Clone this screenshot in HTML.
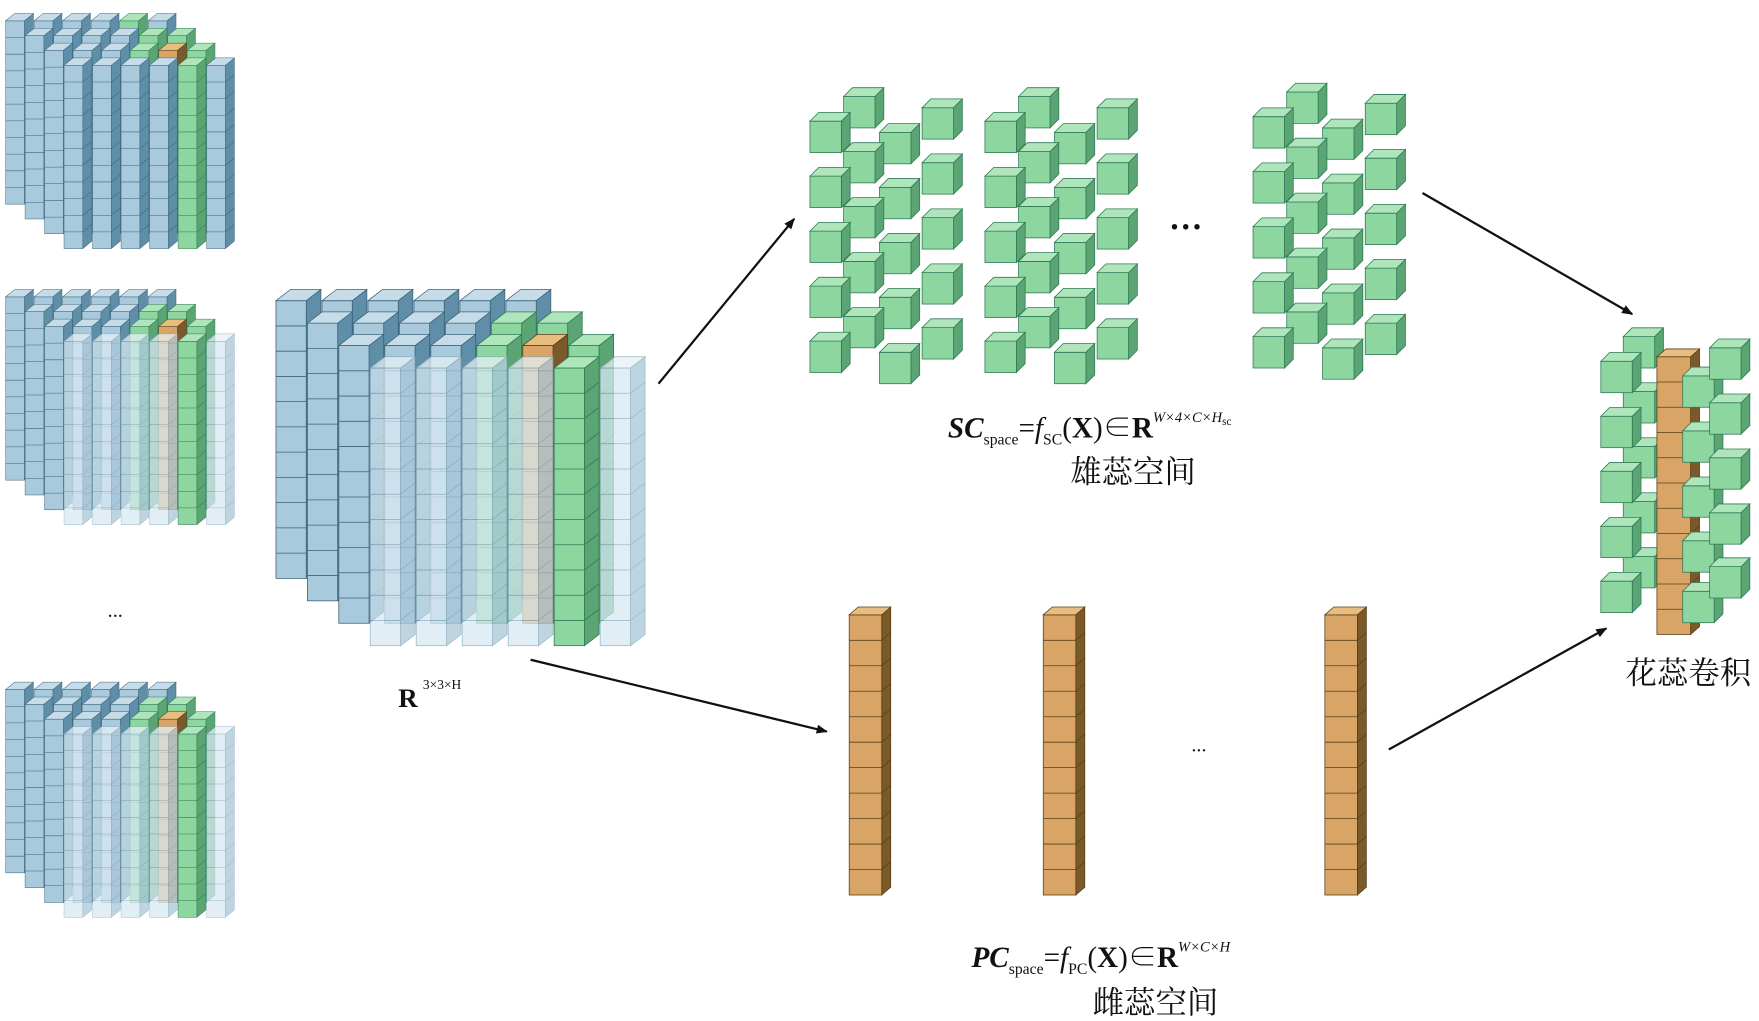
<!DOCTYPE html>
<html><head><meta charset="utf-8"><style>
html,body{margin:0;padding:0;background:#fff;overflow:hidden}
svg{display:block}
.t{font-family:"Liberation Serif","Noto Serif CJK SC",serif;fill:#111}
.c{font-family:"Liberation Serif","Noto Serif CJK SC","Noto Sans CJK SC",serif;fill:#111}
</style></head><body>
<svg id="s" width="1759" height="1021" viewBox="0 0 1568 910" preserveAspectRatio="none" xmlns="http://www.w3.org/2000/svg">
<defs><marker id="a" markerWidth="10" markerHeight="8" refX="9" refY="4" orient="auto" markerUnits="userSpaceOnUse"><path d="M0,0 L10,4 L0,8 Z" fill="#111"/></marker></defs>
<g id="g"></g>
<g stroke="#111" stroke-width="2" marker-end="url(#a)">
<line x1="587" y1="342" x2="708" y2="195"/>
<line x1="473" y1="588" x2="737" y2="652"/>
<line x1="1268" y1="172" x2="1455" y2="280"/>
<line x1="1238" y1="668" x2="1432" y2="560"/>
</g>
<text class="t" x="96" y="550" font-size="18">...</text>
<text class="t" x="355" y="630" font-size="24" font-weight="bold">R</text><text class="t" x="377" y="614" font-size="12">3×3×H</text>
<text class="t" x="1042" y="212" font-size="30" font-weight="bold">···</text>
<text class="t" x="1062" y="670" font-size="18">...</text>
<text class="t" x="845" y="390" font-size="26"><tspan font-weight="bold" font-style="italic">SC</tspan><tspan font-size="14" dy="6">space</tspan><tspan dy="-6">=</tspan><tspan font-style="italic">f</tspan><tspan font-size="14" dy="6">SC</tspan><tspan dy="-6">(</tspan><tspan font-weight="bold">X</tspan><tspan>)∈</tspan><tspan font-weight="bold">R</tspan><tspan font-size="13" font-style="italic" dy="-14">W×4×C×H</tspan><tspan font-size="10" dy="3">sc</tspan></text>
<text class="c" x="1010" y="430" font-size="28" text-anchor="middle">雄蕊空间</text>
<text class="t" x="866" y="862" font-size="26"><tspan font-weight="bold" font-style="italic">PC</tspan><tspan font-size="14" dy="6">space</tspan><tspan dy="-6">=</tspan><tspan font-style="italic">f</tspan><tspan font-size="14" dy="6">PC</tspan><tspan dy="-6">(</tspan><tspan font-weight="bold">X</tspan><tspan>)∈</tspan><tspan font-weight="bold">R</tspan><tspan font-size="13" font-style="italic" dy="-14">W×C×H</tspan></text>
<text class="c" x="1030" y="903" font-size="28" text-anchor="middle">雌蕊空间</text>
<text class="c" x="1505" y="609" font-size="28" text-anchor="middle">花蕊卷积</text>
</svg>
<script>
var B=['#a9c9dc','#5f8ea8','#c6dde9','#3d6478'],G=['#8dd6a0','#5aa573','#aee5bb','#2f7a55'],O=['#d9a566','#7a5a2a','#e8bd80','#5a3f15'],T=['#d8e9f3','#a9c7d8','#e6f1f7','#7fa3b8'];
function col(x,y,w,ch,n,dx,dy,c,op){var H=n*ch,k=c[3],s='<g opacity="'+(op||1)+'" stroke="'+k+'" stroke-width="0.7">';
s+='<polygon points="'+(x+w)+','+y+' '+(x+w+dx)+','+(y-dy)+' '+(x+w+dx)+','+(y-dy+H)+' '+(x+w)+','+(y+H)+'" fill="'+c[1]+'"/>';
s+='<rect x="'+x+'" y="'+y+'" width="'+w+'" height="'+H+'" fill="'+c[0]+'"/>';
s+='<polygon points="'+x+','+y+' '+(x+dx)+','+(y-dy)+' '+(x+w+dx)+','+(y-dy)+' '+(x+w)+','+y+'" fill="'+c[2]+'"/>';
for(var i=1;i<n;i++){var yy=y+i*ch;s+='<line x1="'+x+'" y1="'+yy+'" x2="'+(x+w)+'" y2="'+yy+'"/><line x1="'+(x+w)+'" y1="'+yy+'" x2="'+(x+w+dx)+'" y2="'+(yy-dy)+'"/>';}
return s+'</g>';}
function block(rows){var s='';for(var r=0;r<4;r++){for(var i=0;i<6;i++){var c=rows[r][i];var x=246+r*28+i*41,y=268+r*20;
var cc=c=='B'?B:c=='G'?G:c=='O'?O:T;var op=c=='T'?0.75:1;s+=col(x,y,27,22.5,11,13,10,cc,op);}}return s;}
var bigB=block(['BBBBBB','BBBBGG','BBBGOG','TTTTGT']);
var topB=block(['BBBBGB','BBBBGG','BBBGOG','BBBBGB']);
var h='';
h+='<g transform="translate(5,12) scale(0.62,0.66) translate(-246,-258)">'+topB+'</g>';
h+='<g transform="translate(5,258) scale(0.62,0.66) translate(-246,-258)">'+bigB+'</g>';
h+='<g transform="translate(5,608) scale(0.62,0.66) translate(-246,-258)">'+bigB+'</g>';
h+=bigB;
function cube(x,y,s,c){return col(x,y,s,s,1,s*0.28,s*0.28,c||G,1);}
function group(ox,oy){var s='',offs=[[0,24],[30,2],[62,34],[100,12]];
var arr=[];for(var k=0;k<4;k++)for(var j=0;j<5;j++)arr.push([ox+offs[k][0],oy+offs[k][1]+j*49]);
arr.sort(function(a,b){return a[1]-b[1]||a[0]-b[0]});arr.forEach(function(p){s+=cube(p[0],p[1],28);});return s;}
h+=group(722,84)+group(878,84)+group(1117,80);
[757,930,1181].forEach(function(x){h+=col(x,548,29,22.7,11,8,7,O,1);});
var rs='';
[[1447,300],[1447,349],[1447,398],[1447,447],[1447,496]].forEach(function(p){rs+=cube(p[0],p[1],28);});
[[1427,322],[1427,371],[1427,420],[1427,469],[1427,518]].forEach(function(p){rs+=cube(p[0],p[1],28);});
rs+=col(1477,318,30,22.5,11,8,7,O,1);
[[1500,335],[1500,384],[1500,433],[1500,482],[1500,527]].forEach(function(p){rs+=cube(p[0],p[1],28);});
[[1524,310],[1524,359],[1524,408],[1524,457],[1524,505]].forEach(function(p){rs+=cube(p[0],p[1],28);});
h+=rs;
document.getElementById('g').innerHTML=h;
</script>
</body></html>
